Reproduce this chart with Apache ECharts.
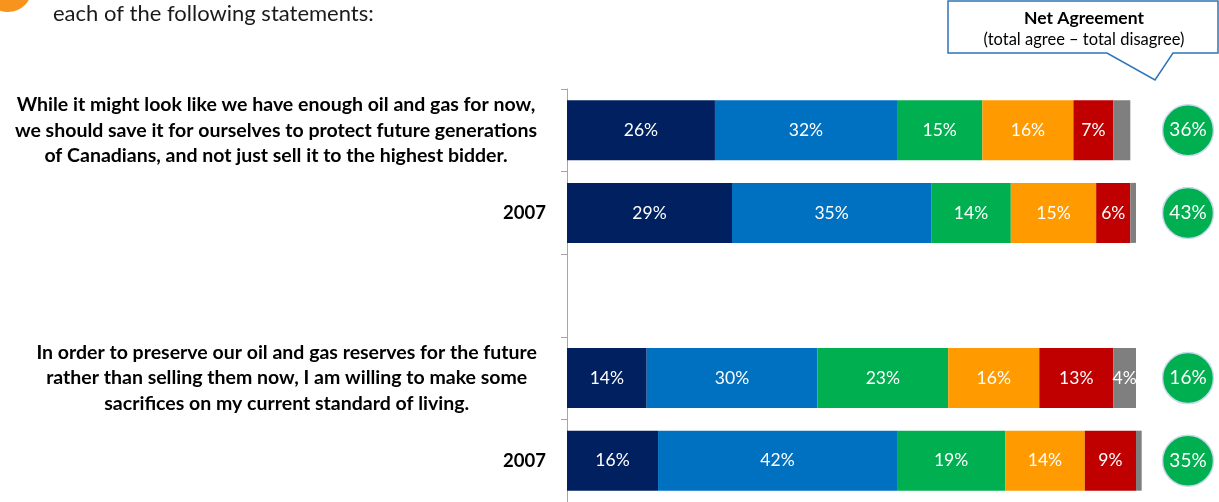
<!DOCTYPE html>
<html>
<head>
<meta charset="utf-8">
<script src="https://cdn.jsdelivr.net/npm/echarts@6/dist/echarts.min.js"></script>
<style>
  html, body { margin: 0; padding: 0; background: #ffffff; }
  #chart { width: 1219px; height: 502px; }
</style>
</head>
<body>
<div id="chart"></div>
<script>
// Statements and year rows (top to bottom); the empty row separates the two statements
const categories = [
  'While it might look like we have enough oil and gas for now,\nwe should save it for ourselves to protect future generations\nof Canadians, and not just sell it to the highest bidder.',
  '2007',
  '',
  'In order to preserve our oil and gas reserves for the future\nrather than selling them now, I am willing to make some\nsacrifices on my current standard of living.',
  '2007'
];

// Response shares, percent
const stronglyAgree     = [26, 29, null, 14, 16];
const somewhatAgree     = [32, 35, null, 30, 42];
const neither           = [15, 14, null, 23, 19];
const somewhatDisagree  = [16, 15, null, 16, 14];
const stronglyDisagree  = [7, 6, null, 13, 9];
const dontKnow          = [3, 1, null, 4, 1];

// Net agreement (total agree - total disagree), percent
const netAgreement = [36, 43, null, 16, 35];

const FONT = 'Lato';

function segment(name, data, color, minLabel) {
  return {
    name: name,
    type: 'bar',
    stack: 'total',
    xAxisIndex: 0,
    yAxisIndex: 0,
    barWidth: 60,
    clip: false,
    data: data,
    itemStyle: { color: color },
    label: {
      show: true,
      position: 'inside',
      color: '#ffffff',
      fontFamily: FONT,
      fontSize: 17.5,
      formatter: p => (p.value != null && p.value >= minLabel) ? p.value + '%' : ''
    },
    emphasis: { disabled: true }
  };
}

const chart = echarts.init(document.getElementById('chart'), null, { renderer: 'canvas' });

chart.setOption({
  animation: false,
  backgroundColor: '#ffffff',
  title: {
    text: 'each of the following statements:',
    left: 48,
    top: -2,
    textStyle: { fontFamily: FONT, fontSize: 22, fontWeight: 'normal', color: '#1a1a1a' }
  },
  grid: [
    { left: 567, right: 83, top: 89, bottom: 0 },
    { left: 1163, width: 50, top: 89, bottom: 0 }
  ],
  xAxis: [
    { gridIndex: 0, type: 'value', min: 0, max: 100, show: false },
    { gridIndex: 1, type: 'value', min: 0, max: 1, show: false }
  ],
  yAxis: [
    {
      gridIndex: 0,
      type: 'category',
      inverse: true,
      data: categories,
      axisLine: { show: true, lineStyle: { color: '#a6a6a6', width: 1 } },
      axisTick: { show: true, length: 6, lineStyle: { color: '#a6a6a6' } },
      splitLine: { show: false },
      axisLabel: {
        margin: 21,
        color: '#000000',
        fontFamily: FONT,
        fontWeight: 'bold',
        fontSize: 18.5,
        formatter: v => v === '2007'
          ? '{y|' + v + '}'
          : v.split('\n').map(line => '{q|' + line + '}').join('\n'),
        rich: {
          y: { fontFamily: FONT, fontWeight: 'bold', fontSize: 18.5, color: '#000000' },
          q: { fontFamily: FONT, fontWeight: 'bold', fontSize: 19.5, color: '#000000',
               align: 'center', lineHeight: 25.5, padding: [0, 9, 0, 0] }
        }
      }
    },
    {
      gridIndex: 1,
      type: 'category',
      inverse: true,
      data: categories,
      show: false
    }
  ],
  series: [
    segment('Strongly agree', stronglyAgree, '#002060', 1),
    segment('Somewhat agree', somewhatAgree, '#0070c0', 1),
    segment('Neither', neither, '#00b050', 1),
    segment('Somewhat disagree', somewhatDisagree, '#ff9a00', 1),
    segment('Strongly disagree', stronglyDisagree, '#c00000', 1),
    segment("Don't know", dontKnow, '#7f7f7f', 4),
    {
      name: 'Net agreement',
      type: 'scatter',
      xAxisIndex: 1,
      yAxisIndex: 1,
      symbol: 'circle',
      symbolSize: 51,
      data: netAgreement.map((v, i) => v == null ? null : [0.5, i, v]),
      itemStyle: { color: '#00b050', opacity: 1, borderColor: '#c9d9ef', borderWidth: 1.5 },
      label: {
        show: true,
        position: 'inside',
        color: '#ffffff',
        fontFamily: FONT,
        fontSize: 19,
        formatter: p => p.value[2] + '%'
      },
      emphasis: { disabled: true }
    }
  ],
  graphic: [
    // orange bullet at the corner
    {
      type: 'circle',
      shape: { cx: 8, cy: -12, r: 24 },
      style: { fill: '#f7941d' },
      silent: true
    },
    // callout box with pointer
    {
      type: 'polygon',
      shape: {
        points: [[948, 1], [1218, 1], [1218, 53], [1173, 53], [1155, 80], [1107, 53], [948, 53]]
      },
      style: { fill: '#ffffff', stroke: '#2e75b6', lineWidth: 1.5 },
      silent: true
    },
    {
      type: 'text',
      x: 1084,
      y: 18,
      style: {
        text: 'Net Agreement',
        x: 0, y: 0,
        textAlign: 'center',
        textVerticalAlign: 'middle',
        fontFamily: FONT,
        fontWeight: 'bold',
        fontSize: 17.5,
        fill: '#000000'
      },
      silent: true
    },
    {
      type: 'text',
      x: 1084,
      y: 40,
      style: {
        text: '(total agree \u2013 total disagree)',
        x: 0, y: 0,
        textAlign: 'center',
        textVerticalAlign: 'middle',
        fontFamily: FONT,
        fontSize: 16.5,
        fill: '#000000'
      },
      silent: true
    }
  ]
});
</script>
</body>
</html>
